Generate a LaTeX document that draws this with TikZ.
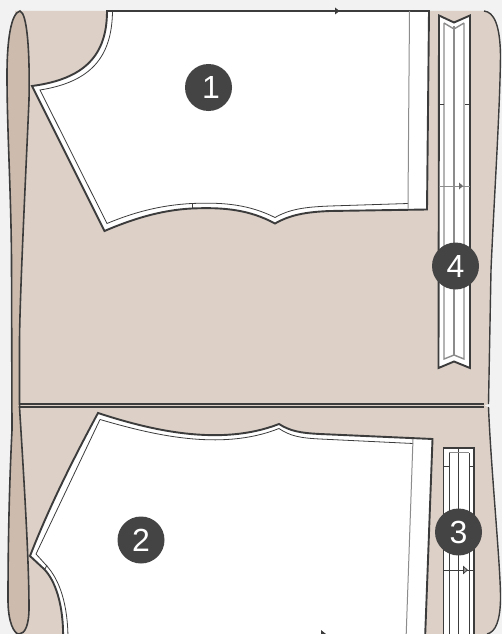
\documentclass[tikz,border=0pt]{standalone}
\usepackage{fontspec}
\setmainfont{Liberation Sans}
\definecolor{bgc}{HTML}{F2F2F2}
\definecolor{fabric}{HTML}{DCD0C7}
\definecolor{foldc}{HTML}{CDBCAD}
\definecolor{ink}{HTML}{3C3C3C}
\definecolor{badge}{HTML}{444444}
\definecolor{seamg}{HTML}{8C8C8C}
\tikzset{
  outline/.style={draw=ink,line width=1.9pt,line join=miter},
  seam/.style={draw=ink,line width=0.8pt},
  greyline/.style={draw=seamg,line width=1.4pt},
  tick/.style={draw=ink,line width=0.9pt},
  badgenode/.style={circle,fill=badge,text=white,minimum size=47pt,inner sep=0pt,font=\fontsize{32}{32}\selectfont}
}
\begin{document}
\begin{tikzpicture}[x=1pt,y=-1pt]
\useasboundingbox (0,0) rectangle (502,634);
\clip (0,0) rectangle (502,634);
\fill[bgc] (0,0) rectangle (502,634);
% fabric
\fill[fabric] (20,11) -- (484,11) .. controls (494,12) and (500,25) .. (500.5,55)
  .. controls (500,110) and (494,200) .. (491,270) -- (488.5,404) -- (484,405.5) -- (488.5,407)
  .. controls (491,470) and (501,570) .. (500.5,600) .. controls (500,620) and (496,632) .. (487,634)
  -- (15,634) -- (15,11) -- cycle;
% fold, upper and lower halves meet in the gap between the two cut lines
\draw[draw=ink,line width=1.6pt,fill=foldc] (20,11) .. controls (11,13) and (7,40) .. (7,75)
  .. controls (7,130) and (11,190) .. (11.5,260) -- (12,430)
  .. controls (10,470) and (8,530) .. (8,600) .. controls (8,622) and (14,634) .. (19,634)
  .. controls (25,634) and (29,625) .. (29,608) .. controls (29,560) and (24,480) .. (19.5,407)
  -- (19.5,340) .. controls (20,290) and (26,170) .. (29,100) .. controls (30,50) and (27,13) .. (20,11) -- cycle;
\fill[foldc] (13,404.8) rectangle (19,406.2);
% cut lines
\draw[outline] (19,404) -- (484,404);
\draw[draw=ink,line width=1.5pt] (19,407) -- (484,407);
\draw[draw=ink,line width=1.4pt] (484,11) .. controls (494,12) and (500,25) .. (500.5,55)
  .. controls (500,110) and (494,200) .. (491,270) -- (488.5,404);
\draw[draw=ink,line width=1.4pt] (488.5,407) .. controls (491,470) and (501,570) .. (500.5,600)
  .. controls (500,620) and (496,632) .. (487,634);
% piece 1
\draw[outline,fill=white] (107,11) .. controls (107,55) and (85,79) .. (32,86) -- (104.5,231)
  .. controls (130,220) and (160,210) .. (192,208.5)
  .. controls (225,207) and (250,210) .. (275,223.5)
  .. controls (290,215) and (305,212) .. (330,211) -- (427,209.5) -- (429,11) -- cycle;
\draw[seam] (112.5,11) .. controls (112,58) and (90,82) .. (40,90) -- (107,223.5)
  .. controls (132,213) and (160,205) .. (192,203.5)
  .. controls (225,202) and (250,205) .. (275,217.5)
  .. controls (290,209) and (305,207) .. (330,206) -- (408,203.5);
\draw[seam] (192,204) -- (192,208);
\draw[greyline,line width=1pt] (409.5,11) -- (408,203.5) -- (408,208.5);
% piece 2
\draw[outline,fill=white] (98,413) .. controls (150,430) and (220,447) .. (279,424)
  .. controls (290,431) and (300,433) .. (320,434) -- (432.5,439)
  -- (425,640) -- (63,640) .. controls (64,605) and (55,580) .. (44,569) -- (30,556)
  .. controls (48,510) and (70,465) .. (98,413) -- cycle;
\draw[seam] (100,419.5) .. controls (150,434) and (220,452) .. (279,428.5)
  .. controls (290,436) and (300,438) .. (320,439) -- (413,443.5);
\draw[seam] (100,419.5) -- (36,554) -- (46,565) .. controls (60,580) and (68,605) .. (68,640);
\draw[seam] (45,569) -- (47,565);
\draw[greyline,line width=1pt] (413,439) -- (406,640);
% arrows on pieces
\fill[ink] (335,7.5) -- (339.5,11) -- (335,14.5) -- cycle;
\fill[ink] (321,630) -- (326,634) -- (321,638) -- cycle;
% strip 4
\draw[outline,fill=white] (439,15.5) -- (454,22.5) -- (470,15.5) -- (470,368) -- (454,361.5) -- (438.5,368) -- cycle;
\draw[greyline] (444,23) -- (454,29) -- (464,23) (444,23) -- (444,359) -- (454,355) -- (464,359) -- (464,23);
\draw[greyline] (454,26) -- (454,356);
\draw[tick] (439,104) -- (443.5,104) (465,104) -- (470,104);
\draw[greyline,line width=0.9pt] (439,186) -- (470,186);
\fill[seamg!60!ink] (459,182.5) -- (463,186) -- (459,189.5) -- cycle;
% strip 3
\draw[outline,fill=white] (443.5,640) -- (443.5,448) -- (474,448) -- (474,640);
\draw[draw=ink,line width=1pt] (449,640) -- (449,452.5) (469,640) -- (469,452.5) (458.5,448) -- (458.5,640);
\draw[greyline,line width=1.2pt] (449,452.5) -- (469,452.5);
\draw[tick] (443.5,466.5) -- (449,466.5) (469,466.5) -- (474,466.5);
\draw[draw=ink,line width=0.7pt] (443.5,570) -- (474,570);
\draw[draw=ink,line width=0.7pt,fill=seamg] (463.5,566.5) -- (467.5,570) -- (463.5,573.5) -- cycle;
% badges
\node[badgenode] (b1) at (208.5,87.5) {};
\node[text=white,font=\fontsize{32}{32}\selectfont] (t1) at (211,87.5) {1};
\node[badgenode] (b2) at (141,540) {2};
\node[badgenode] (b3) at (458.5,532) {3};
\node[badgenode] (b4) at (455.5,266) {4};
\end{tikzpicture}
\end{document}
